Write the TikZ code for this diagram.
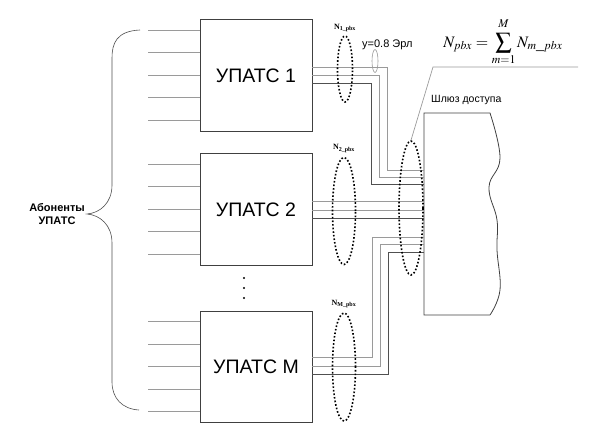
\documentclass[tikz,border=0pt]{standalone}
\usepackage{mathptmx}
\usepackage{fontspec}
\setmainfont{Liberation Serif}
\setsansfont{Liberation Sans}
\usetikzlibrary{positioning, shapes.geometric, calc}
\definecolor{wire}{HTML}{9A9A9A}
\definecolor{wired}{HTML}{505050}
\definecolor{frame}{HTML}{404040}

\tikzset{
  pbxbox/.style={draw=frame, line width=0.8pt, minimum width=112pt, minimum height=111.5pt,
                 inner sep=0pt, font=\sffamily\fontsize{19.5}{21}\selectfont},
  subline/.style={draw=wire, line width=0.8pt},
  trunk/.style={draw=wire, line width=0.9pt},
  trunkd/.style={draw=wired, line width=0.9pt},
  bundle/.style={draw=black, line width=1.6pt, dotted, ellipse, inner sep=0pt},
  lbl/.style={font=\bfseries\fontsize{8}{9}\selectfont, inner sep=0pt},
  small/.style={font=\sffamily\fontsize{10}{11}\selectfont, inner sep=0pt},
}

\begin{document}
\begin{tikzpicture}[x=1pt, y=-1pt]
    \useasboundingbox (0,0) rectangle (593,434);

    % PBX boxes
    \node[pbxbox] (pbx1) at (256,75.5) {УПАТС 1};
    \node[pbxbox] (pbx2) at (256,209.5) {УПАТС 2};
    \node[pbxbox] (pbxM) at (256,367) {УПАТС M};
    \foreach \yy in {278,288,298}
      \fill (244,\yy) circle (1.2pt);

    % subscriber lines
    \foreach \b in {pbx1,pbx2,pbxM}
      \foreach \k in {0,...,4}
        \draw[subline] ($(\b.north west)+(0,11+22.5*\k)$) -- ++(-52,0);

    % brace
    \coordinate (tip) at (87,214);
    \draw[wired, line width=0.6pt] (140,30) .. controls (116,31) and (112,44) .. (112,58)
      -- (112,185) .. controls (112,203) and (100,213) .. (tip)
      .. controls (100,215) and (112,225) .. (112,243)
      -- (112,382) .. controls (112,398) and (122,409) .. (139,410);
    \node[small, font=\sffamily\bfseries\fontsize{11}{12.5}\selectfont, align=center,
          left=2pt of tip] (subs) {Абоненты\\УПАТС};

    % access gateway
    \coordinate (gw) at (424,113);
    \draw[frame, line width=0.8pt] (490,315) -- (424,315) -- (gw) -- (490,113)
      -- plot[smooth, tension=0.7] coordinates {(490,113) (500,158) (489,187) (497,220)
         (497,250) (500,290) (490,315)};
    \node[small, font=\sffamily\fontsize{10.5}{12}\selectfont, anchor=west] (gwlbl) at (431,100) {Шлюз доступа};

    % trunks
    \foreach \ya/\xb/\yb/\s in {67/387/170/trunk, 75/379/177/trunk, 83/371/184/trunkd}
      \draw[\s] (pbx1.east |- 0,\ya) -| (\xb,\yb) -- (gw |- 0,\yb);
    \foreach \ya/\s in {201/trunk, 210/trunk, 218/trunkd}
      \draw[\s] (pbx2.east |- 0,\ya) -- (gw |- 0,\ya);
    \foreach \ya/\xb/\yb/\s in {357/372/237/trunk, 366/380/244/trunk, 374/388/252/trunkd}
      \draw[\s] (pbxM.east |- 0,\ya) -| (\xb,\yb) -- (gw |- 0,\yb);

    % bundles
    \node[bundle, minimum width=15pt, minimum height=66pt] (b1) at (345,69) {};
    \node[bundle, minimum width=23pt, minimum height=107pt] (b2) at (344,211) {};
    \node[bundle, minimum width=23pt, minimum height=108pt] (bM) at (344,367) {};
    \node[bundle, minimum width=24pt, minimum height=134pt] (bgw) at (411,208) {};
    \node[lbl, above=3pt of b1] {N\textsubscript{1\_pbx}};
    \node[lbl, above=4pt of b2] {N\textsubscript{2\_pbx}};
    \node[lbl, above=4pt of bM] {N\textsubscript{M\_pbx}};

    % load
    \node[draw=wire, line width=0.6pt, ellipse, inner sep=0pt, minimum width=6pt,
          minimum height=23pt] (erl) at (375,61) {};
    \node[small, font=\sffamily\fontsize{11}{12}\selectfont, anchor=west] (erllbl) at (362,45) {y=0.8 Эрл};

    % total
    \node[font=\fontsize{16}{19}\selectfont, inner sep=0pt] (sumf) at (503,42)
      {$N_{pbx}=\displaystyle\sum_{m=1}^{\raisebox{2.5pt}{$\scriptstyle M$}}N_{m\_pbx}$};
    \draw[wire, line width=0.7pt] (578,67) -- (433,67) -- (bgw.north);
\end{tikzpicture}
\end{document}
